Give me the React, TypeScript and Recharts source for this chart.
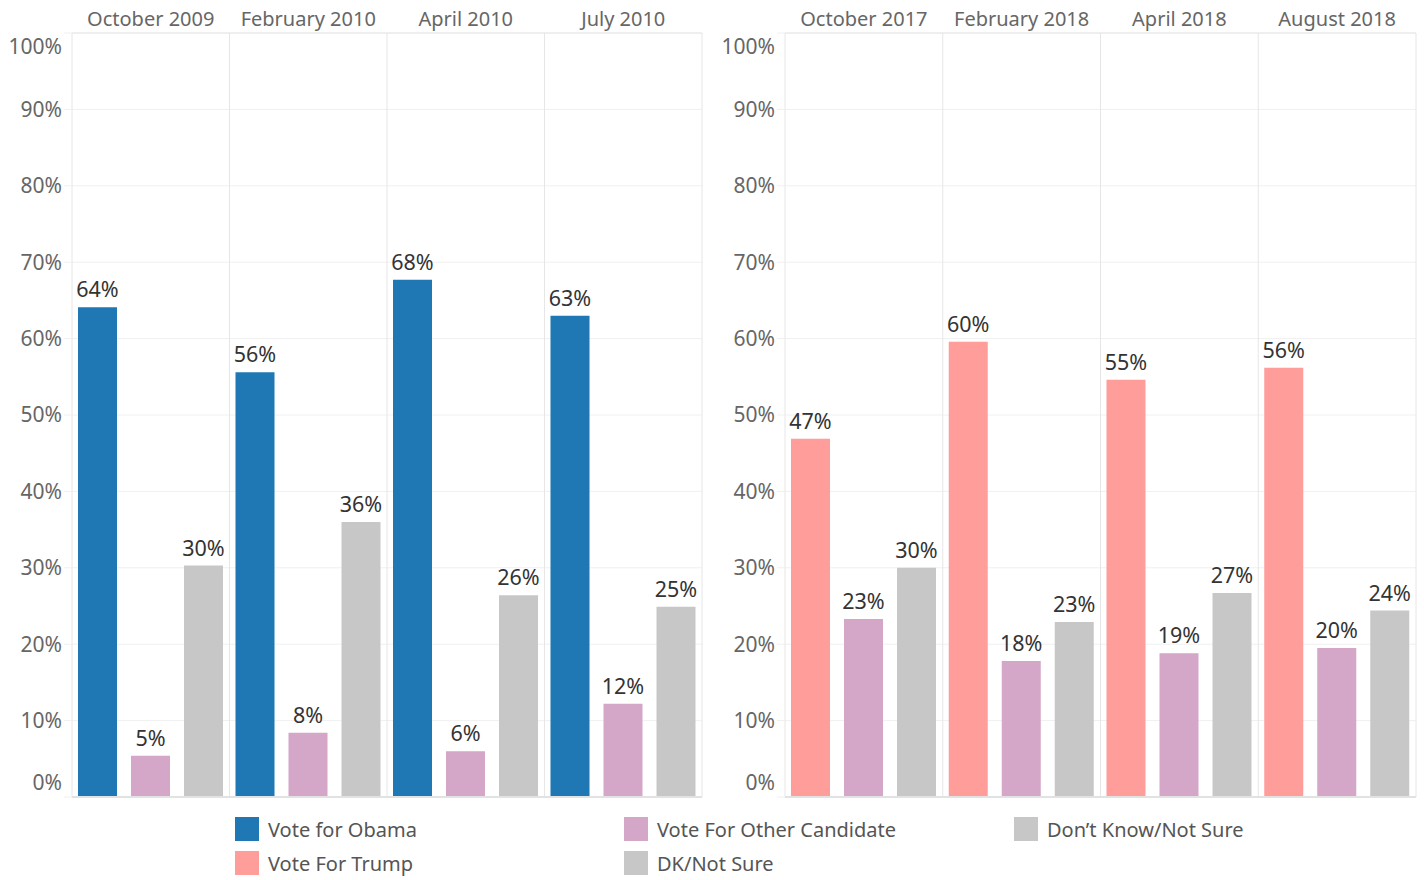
import React from 'react';
import { BarChart, Bar, XAxis, YAxis, CartesianGrid, ReferenceLine, LabelList } from 'recharts';

// 2009-2010 generic ballot (Obama)
const periodsLeft = ['October 2009', 'February 2010', 'April 2010', 'July 2010'];
const voteObama = [64.1, 55.6, 67.7, 63.0];
const otherLeft = [5.4, 8.4, 6.0, 12.2];
const dkLeft = [30.3, 36.0, 26.4, 24.9];

// 2017-2018 generic ballot (Trump)
const periodsRight = ['October 2017', 'February 2018', 'April 2018', 'August 2018'];
const voteTrump = [46.9, 59.6, 54.6, 56.2];
const otherRight = [23.3, 17.8, 18.8, 19.5];
const dontKnowRight = [30.0, 22.9, 26.7, 24.4];

const yTicks = [0, 10, 20, 30, 40, 50, 60, 70, 80, 90, 100];

const BLUE = '#1f77b4';
const LILAC = '#d4a6c8';
const GRAY = '#c7c7c7';
const SALMON = '#ff9d9a';

const FONT = '"Noto Sans", sans-serif';

const leftData = periodsLeft.map((p, i) => ({ period: p, a: voteObama[i], b: otherLeft[i], c: dkLeft[i] }));
const rightData = periodsRight.map((p, i) => ({ period: p, a: voteTrump[i], b: otherRight[i], c: dontKnowRight[i] }));

const YTick = (props: any) => {
  const { x, y, payload } = props;
  // tableau pulls the end labels inside the pane
  const shift = payload.value === 0 ? -14 : payload.value === 100 ? 14 : 0;
  return (
    <text x={x} y={y + shift} dy="0.35em" textAnchor="end" fill="#666" fontSize={21} fontFamily={FONT}>
      {payload.value}%
    </text>
  );
};

const HeaderTick = (props: any) => {
  const { x, payload } = props;
  return (
    <text x={x} y={26} textAnchor="middle" fill="#666" fontSize={20} fontFamily={FONT}>
      {payload.value}
    </text>
  );
};

const pct = (v: any) => `${Math.round(Number(v))}%`;

interface PanelProps {
  data: any[];
  periods: string[];
  colors: string[];
  yWidth: number;
  rightMargin: number;
}

const Panel: React.FC<PanelProps> = ({ data, periods, colors, yWidth, rightMargin }) => (
  <BarChart
    width={712}
    height={800}
    data={data}
    margin={{ top: 0, right: rightMargin, bottom: 3, left: 0 }}
    barGap={14}
    barCategoryGap={0}
  >
    <XAxis
      xAxisId="cat"
      dataKey="period"
      orientation="top"
      height={33}
      tickLine={false}
      axisLine={{ stroke: '#e6e6e6' }}
      tick={<HeaderTick />}
      interval={0}
    />
    <YAxis
      domain={[0, 100]}
      ticks={yTicks}
      interval={0}
      width={yWidth}
      axisLine={false}
      tickLine={{ stroke: '#f0f0f0' }}
      tickSize={8}
      tickMargin={2}
      tick={<YTick />}
    />
    <CartesianGrid xAxisId="cat" horizontal vertical={false} stroke="#f0f0f0" />
    {/* column borders */}
    {periods.map((p) => (
      <ReferenceLine key={p} xAxisId="cat" x={p} position="start" stroke="#e6e6e6" />
    ))}
    <ReferenceLine xAxisId="cat" x={periods[periods.length - 1]} position="end" stroke="#e6e6e6" />
    <ReferenceLine xAxisId="cat" y={0} stroke="#e2e2e2" strokeWidth={2} />
    {['a', 'b', 'c'].map((k, i) => (
      <Bar key={k} xAxisId="cat" dataKey={k} fill={colors[i]} barSize={39} isAnimationActive={false}>
        <LabelList dataKey={k} position="top" offset={10} formatter={pct} fill="#333" fontSize={21.5} fontFamily={FONT} />
      </Bar>
    ))}
  </BarChart>
);

const legendItems = [
  { label: 'Vote for Obama', color: BLUE, left: 235, top: 817 },
  { label: 'Vote For Trump', color: SALMON, left: 235, top: 851 },
  { label: 'Vote For Other Candidate', color: LILAC, left: 624, top: 817 },
  { label: 'DK/Not Sure', color: GRAY, left: 624, top: 851 },
  { label: 'Don\u2019t Know/Not Sure', color: GRAY, left: 1014, top: 817 },
];

export default function App() {
  return (
    <div style={{ position: 'absolute', left: 0, top: 0, width: 1424, height: 880, background: '#fff', fontFamily: FONT }}>
      <div style={{ position: 'absolute', left: 0, top: 0 }}>
        <Panel data={leftData} periods={periodsLeft} colors={[BLUE, LILAC, GRAY]} yWidth={72} rightMargin={10} />
      </div>
      <div style={{ position: 'absolute', left: 712, top: 0 }}>
        <Panel data={rightData} periods={periodsRight} colors={[SALMON, LILAC, GRAY]} yWidth={73} rightMargin={8} />
      </div>
      {legendItems.map((it) => (
        <div key={it.label} style={{ position: 'absolute', left: it.left, top: it.top, display: 'flex', alignItems: 'center', height: 24 }}>
          <div style={{ width: 24, height: 24, background: it.color }} />
          <span style={{ marginLeft: 9, fontSize: 20, color: '#555', whiteSpace: 'nowrap' }}>{it.label}</span>
        </div>
      ))}
    </div>
  );
}
